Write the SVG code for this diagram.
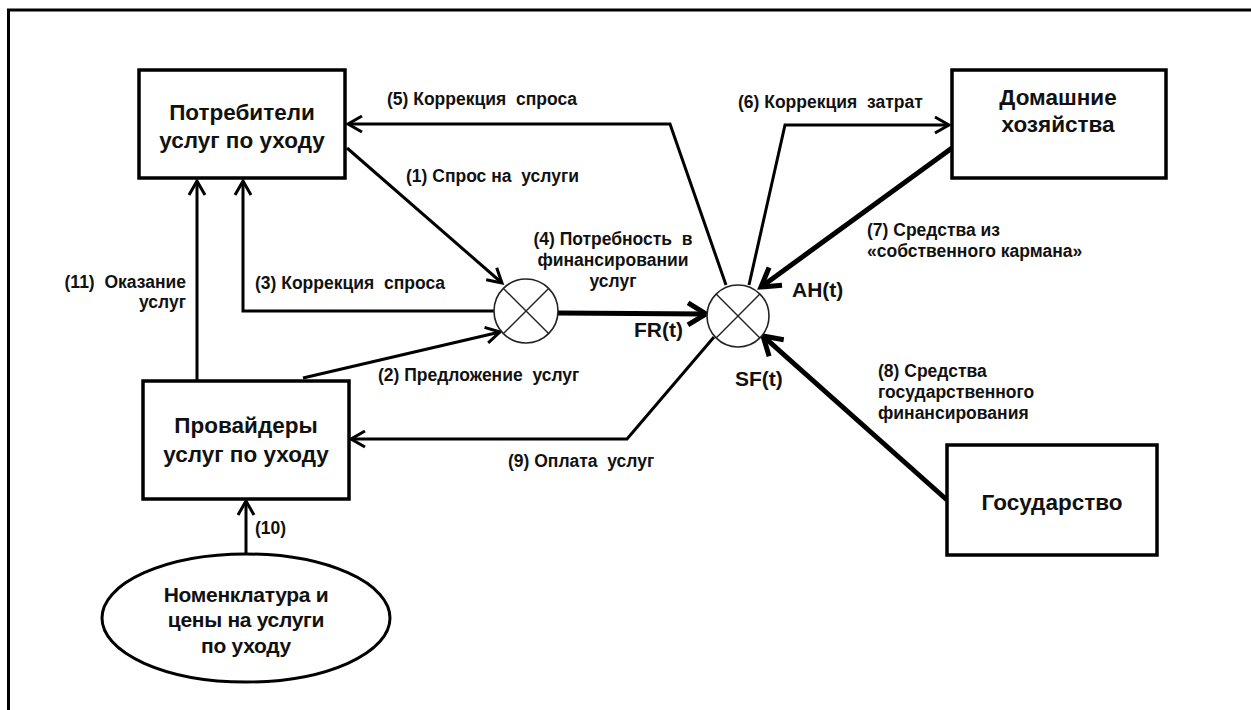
<svg xmlns="http://www.w3.org/2000/svg" width="1251" height="710" viewBox="0 0 1251 710">
<style>
.box{fill:#fff;stroke:#000;stroke-width:3.5}
.node{font-family:"Liberation Sans",Arial,sans-serif;font-weight:bold;font-size:22.5px;fill:#111;text-anchor:middle}
.ell{font-family:"Liberation Sans",Arial,sans-serif;font-weight:bold;font-size:21px;fill:#111;text-anchor:middle;letter-spacing:-0.3px}
.lbl{font-family:"Liberation Sans",Arial,sans-serif;font-weight:bold;font-size:17.5px;fill:#111;white-space:pre}
.var{font-family:"Liberation Sans",Arial,sans-serif;font-weight:bold;font-size:21px;fill:#111}
.thin{fill:none;stroke:#000;stroke-width:3;marker-end:url(#ah)}
.thick{fill:none;stroke:#000;stroke-width:5;marker-end:url(#ahb)}
.sum{fill:#fff;stroke:#222;stroke-width:1.6}
.sumx{stroke:#222;stroke-width:1.4}
</style>
<defs>
<marker id="ah" markerUnits="userSpaceOnUse" markerWidth="20" markerHeight="22" viewBox="0 0 20 22" refX="16" refY="11" orient="auto">
<path d="M2,3 L16,11 L2,19" fill="none" stroke="#000" stroke-width="3"/>
</marker>
<marker id="ahb" markerUnits="userSpaceOnUse" markerWidth="26" markerHeight="28" viewBox="0 0 26 28" refX="21" refY="14" orient="auto">
<path d="M3,3 L21,14 L3,25" fill="none" stroke="#000" stroke-width="5"/>
</marker>
</defs>
<rect width="1251" height="710" fill="#fff"/>
<path d="M8.5,710 V10 H1251" fill="none" stroke="#000" stroke-width="3"/>

<g id="connectors">
<path id="c1" class="thin" d="M347,148 L502,283"/>
<path id="c2" class="thin" d="M303,378 L500,332"/>
<path id="c3" class="thin" d="M494,311 L243,311 L243,181"/>
<path id="c4" class="thick" d="M558,313 L706,314"/>
<path id="c5" class="thin" d="M726,285 L670,124 L348,124"/>
<path id="c6" class="thin" d="M749,285 L785,125 L949,125"/>
<path id="c7" class="thick" d="M952,148 L761,287"/>
<path id="c8" class="thick" d="M947,500 L763,336"/>
<path id="c9" class="thin" d="M714,337 L627,439 L351,439"/>
<path id="c10" class="thin" d="M246,554 L246,501"/>
<path id="c11" class="thin" d="M197,381 L197,181"/>
</g>

<g id="consumers">
<rect class="box" x="139" y="70" width="206" height="108"/>
<text class="node" x="242" y="120">Потребители</text>
<text class="node" x="242" y="148">услуг по уходу</text>
</g>
<g id="households">
<rect class="box" x="952" y="70" width="214" height="108"/>
<text class="node" x="1058" y="105">Домашние</text>
<text class="node" x="1058" y="132">хозяйства</text>
</g>
<g id="providers">
<rect class="box" x="143" y="381" width="206" height="118"/>
<text class="node" x="246" y="433">Провайдеры</text>
<text class="node" x="246" y="462">услуг по уходу</text>
</g>
<g id="state">
<rect class="box" x="947" y="445" width="210" height="110"/>
<text class="node" x="1052" y="510">Государство</text>
</g>
<g id="nomenclature">
<ellipse cx="246" cy="618" rx="144" ry="64" fill="#fff" stroke="#000" stroke-width="3"/>
<text class="ell" x="246" y="602">Номенклатура и</text>
<text class="ell" x="246" y="627">цены на услуги</text>
<text class="ell" x="246" y="653">по уходу</text>
</g>
<g id="sum1">
<circle class="sum" cx="526" cy="311" r="32"/>
<path class="sumx" d="M503.4,288.4 L548.6,333.6 M548.6,288.4 L503.4,333.6"/>
</g>
<g id="sum2">
<circle class="sum" cx="738" cy="316" r="31"/>
<path class="sumx" d="M716.1,294.1 L759.9,337.9 M759.9,294.1 L716.1,337.9"/>
</g>

<g id="labels" xml:space="preserve">
<text class="lbl" x="387" y="105">(5) Коррекция  спроса</text>
<text class="lbl" x="738" y="108">(6) Коррекция  затрат</text>
<text class="lbl" x="406" y="182">(1) Спрос на  услуги</text>
<text class="lbl" x="613" y="245" text-anchor="middle">(4) Потребность  в</text>
<text class="lbl" x="613" y="266" text-anchor="middle">финансировании</text>
<text class="lbl" x="613" y="287" text-anchor="middle">услуг</text>
<text class="lbl" x="255" y="289">(3) Коррекция  спроса</text>
<text class="lbl" x="186" y="288" text-anchor="end">(11)  Оказание</text>
<text class="lbl" x="186" y="308" text-anchor="end">услуг</text>
<text class="lbl" x="378" y="381">(2) Предложение  услуг</text>
<text class="lbl" x="508" y="467">(9) Оплата  услуг</text>
<text class="lbl" x="867" y="236">(7) Средства из</text>
<text class="lbl" x="867" y="257">«собственного кармана»</text>
<text class="lbl" x="878" y="377">(8) Средства</text>
<text class="lbl" x="878" y="398">государственного</text>
<text class="lbl" x="878" y="419">финансирования</text>
<text class="lbl" x="255" y="534">(10)</text>
<text class="var" x="634" y="337">FR(t)</text>
<text class="var" x="792" y="297">AH(t)</text>
<text class="var" x="735" y="386">SF(t)</text>
</g>
</svg>
